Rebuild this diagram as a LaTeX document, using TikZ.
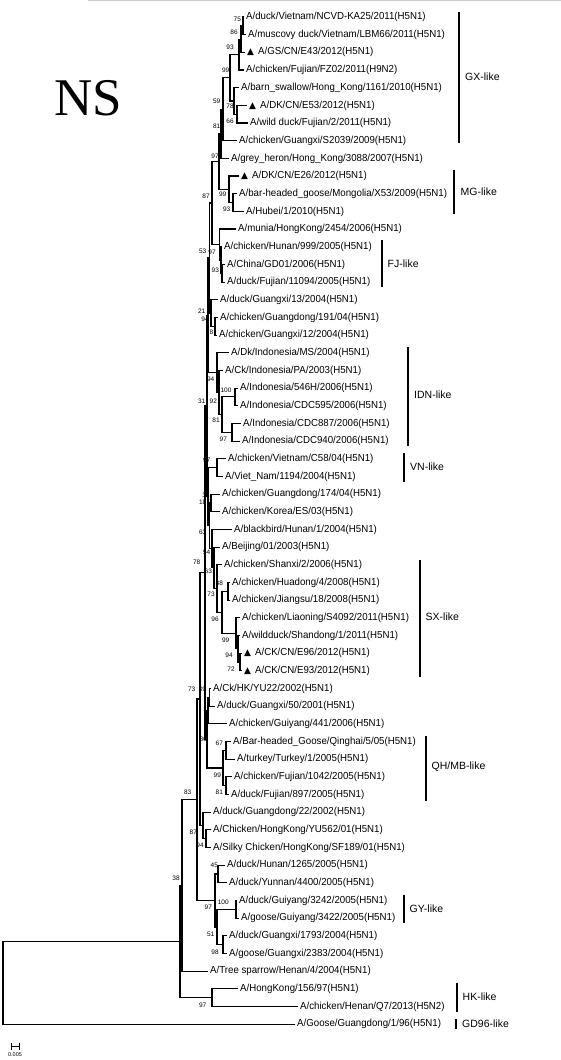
\documentclass[tikz,border=0pt]{standalone}
\usepackage{fontspec}
\setmainfont{Liberation Sans}
\newfontfamily\leaffont[FakeStretch=0.95]{Liberation Sans}
\newfontfamily\nsfont{Liberation Serif}
\newfontfamily\symfont{DejaVu Sans}
\usepackage{tikz}
\usetikzlibrary{calc}

% triangle mark for the new isolates
\newcommand\marktri{{\symfont\fontsize{9}{10}\selectfont ▲}\hspace{4pt}}

% join two children into an inner node at x = #2
\newcommand\joinclade[4]{%
  \path let \p1=(#3), \p2=(#4) in coordinate (#1) at (#2pt,{0.5*(\y1+\y2)});
  \draw[branch] (#3) -| (#1) |- (#4);
}

\tikzset{
  branch/.style={line width=1.1pt},
  leaf/.style={anchor=west, inner xsep=2pt, inner ysep=0pt, font=\leaffont\fontsize{10.2}{12}\selectfont},
  boot/.style={inner sep=0pt, font=\fontsize{6.5}{7}\selectfont},
  cladebar/.style={line width=2pt},
  cladelab/.style={anchor=west, inner sep=0pt, font=\fontsize{10.5}{12}\selectfont}
}

\begin{document}
\begin{tikzpicture}[x=1pt, y=-1pt]
\useasboundingbox (0,0) rectangle (561,1060);

% thin rule at the top
\draw[black!20, line width=1pt] (88,0.5) -- (561,0.5);

% === Title ===
\node[font=\nsfont\fontsize{53}{60}\selectfont, anchor=base west, inner sep=0pt] (title) at (54,115) {NS};

% === Bootstrap values ===
\foreach \v/\x/\y [count=\k] in {75/237.3/19, 86/234/32.3, 93/230/47.3, 99/225.7/70,
    59/216.7/101.7, 78/230/106.7, 66/230/121, 81/216.7/126, 97/215/156,
    87/206/196, 99/222.7/194.3, 93/226.7/209, 53/202.7/251, 97/212/252.7,
    93/215.3/270.7, 21/201.7/311, 94/205/319.3, 78/209.5/332.7,
    94/210.7/379.3, 100/226/390, 31/201.7/401, 92/213.3/401, 81/216/420,
    97/223.3/439.3, 97/206.7/460.7, 31/206/495.7, 18/202.7/502.7,
    63/202.7/532.7, 54/206.7/552.7, 78/196.7/562.3, 63/208.3/571.7,
    88/219.3/583.3, 73/211/594.3, 96/215/619, 99/225.7/640, 94/229/655.7,
    72/231/669, 73/191.7/689.3, 39/202.3/689.3, 80/203.3/739.3,
    67/219.3/743.3, 99/217.3/775, 81/219.3/792.7, 83/187.7/792.7,
    87/193.3/832.7, 94/200/845, 45/214.3/865.7, 38/176/878.3,
    100/223.3/902.3, 97/208.3/907.3, 51/210.7/934, 98/215/952.7, 97/202.7/1005} {
  \node[boot] (bs\k) at (\x,\y) {\v};
}

% === Leaves ===
\node[leaf] (l1) at (244,17.0) {A/duck/Vietnam/NCVD-KA25/2011(H5N1)};
\node[leaf] (l2) at (246,34.7) {A/muscovy duck/Vietnam/LBM66/2011(H5N1)};
\node[leaf] (l3) at (245,52.3) {\marktri A/GS/CN/E43/2012(H5N1)};
\node[leaf] (l4) at (244,70.0) {A/chicken/Fujian/FZ02/2011(H9N2)};
\node[leaf] (l5) at (239,87.7) {A/barn\_swallow/Hong\_Kong/1161/2010(H5N1)};
\node[leaf] (l6) at (247,105.4) {\marktri A/DK/CN/E53/2012(H5N1)};
\node[leaf] (l7) at (248,123.0) {A/wild duck/Fujian/2/2011(H5N1)};
\node[leaf] (l8) at (237,140.7) {A/chicken/Guangxi/S2039/2009(H5N1)};
\node[leaf] (l9) at (229,158.4) {A/grey\_heron/Hong\_Kong/3088/2007(H5N1)};
\node[leaf] (l10) at (239,176.0) {\marktri A/DK/CN/E26/2012(H5N1)};
\node[leaf] (l11) at (237,193.7) {A/bar-headed\_goose/Mongolia/X53/2009(H5N1)};
\node[leaf] (l12) at (244,211.4) {A/Hubei/1/2010(H5N1)};
\node[leaf] (l13) at (236,229.0) {A/munia/HongKong/2454/2006(H5N1)};
\node[leaf] (l14) at (222,246.7) {A/chicken/Hunan/999/2005(H5N1)};
\node[leaf] (l15) at (225,264.4) {A/China/GD01/2006(H5N1)};
\node[leaf] (l16) at (225,282.1) {A/duck/Fujian/11094/2005(H5N1)};
\node[leaf] (l17) at (218,299.7) {A/duck/Guangxi/13/2004(H5N1)};
\node[leaf] (l18) at (218,317.4) {A/chicken/Guangdong/191/04(H5N1)};
\node[leaf] (l19) at (217,335.1) {A/chicken/Guangxi/12/2004(H5N1)};
\node[leaf] (l20) at (229,352.7) {A/Dk/Indonesia/MS/2004(H5N1)};
\node[leaf] (l21) at (223,370.4) {A/Ck/Indonesia/PA/2003(H5N1)};
\node[leaf] (l22) at (238,388.1) {A/Indonesia/546H/2006(H5N1)};
\node[leaf] (l23) at (238,405.7) {A/Indonesia/CDC595/2006(H5N1)};
\node[leaf] (l24) at (241,423.4) {A/Indonesia/CDC887/2006(H5N1)};
\node[leaf] (l25) at (240,441.1) {A/Indonesia/CDC940/2006(H5N1)};
\node[leaf] (l26) at (226,458.8) {A/chicken/Vietnam/C58/04(H5N1)};
\node[leaf] (l27) at (223,476.4) {A/Viet\_Nam/1194/2004(H5N1)};
\node[leaf] (l28) at (220,494.1) {A/chicken/Guangdong/174/04(H5N1)};
\node[leaf] (l29) at (220,511.8) {A/chicken/Korea/ES/03(H5N1)};
\node[leaf] (l30) at (232,529.4) {A/blackbird/Hunan/1/2004(H5N1)};
\node[leaf] (l31) at (220,547.1) {A/Beijing/01/2003(H5N1)};
\node[leaf] (l32) at (222,564.8) {A/chicken/Shanxi/2/2006(H5N1)};
\node[leaf] (l33) at (230,582.4) {A/chicken/Huadong/4/2008(H5N1)};
\node[leaf] (l34) at (230,600.1) {A/chicken/Jiangsu/18/2008(H5N1)};
\node[leaf] (l35) at (240,617.8) {A/chicken/Liaoning/S4092/2011(H5N1)};
\node[leaf] (l36) at (240,635.5) {A/wildduck/Shandong/1/2011(H5N1)};
\node[leaf] (l37) at (242,653.1) {\marktri A/CK/CN/E96/2012(H5N1)};
\node[leaf] (l38) at (242,670.8) {\marktri A/CK/CN/E93/2012(H5N1)};
\node[leaf] (l39) at (211,688.5) {A/Ck/HK/YU22/2002(H5N1)};
\node[leaf] (l40) at (215,706.1) {A/duck/Guangxi/50/2001(H5N1)};
\node[leaf] (l41) at (227,723.8) {A/chicken/Guiyang/441/2006(H5N1)};
\node[leaf] (l42) at (231,741.5) {A/Bar-headed\_Goose/Qinghai/5/05(H5N1)};
\node[leaf] (l43) at (235,759.1) {A/turkey/Turkey/1/2005(H5N1)};
\node[leaf] (l44) at (232,776.8) {A/chicken/Fujian/1042/2005(H5N1)};
\node[leaf] (l45) at (229,794.5) {A/duck/Fujian/897/2005(H5N1)};
\node[leaf] (l46) at (211,812.1) {A/duck/Guangdong/22/2002(H5N1)};
\node[leaf] (l47) at (211,829.8) {A/Chicken/HongKong/YU562/01(H5N1)};
\node[leaf] (l48) at (211,847.5) {A/Silky Chicken/HongKong/SF189/01(H5N1)};
\node[leaf] (l49) at (225,865.2) {A/duck/Hunan/1265/2005(H5N1)};
\node[leaf] (l50) at (227,882.8) {A/duck/Yunnan/4400/2005(H5N1)};
\node[leaf] (l51) at (237,900.5) {A/duck/Guiyang/3242/2005(H5N1)};
\node[leaf] (l52) at (239,918.2) {A/goose/Guiyang/3422/2005(H5N1)};
\node[leaf] (l53) at (227,935.8) {A/duck/Guangxi/1793/2004(H5N1)};
\node[leaf] (l54) at (227,953.5) {A/goose/Guangxi/2383/2004(H5N1)};
\node[leaf] (l55) at (208,971.2) {A/Tree sparrow/Henan/4/2004(H5N1)};
\node[leaf] (l56) at (238,988.9) {A/HongKong/156/97(H5N1)};
\node[leaf] (l57) at (298,1006.5) {A/chicken/Henan/Q7/2013(H5N2)};
\node[leaf] (l58) at (295,1024.2) {A/Goose/Guangdong/1/96(H5N1)};

% === Branches: GX / MG part ===
\joinclade{n75}{243}{l1}{l2}
\joinclade{n86}{241}{n75}{l3}
\joinclade{n93}{239}{n86}{l4}
\joinclade{n66}{237}{l6}{l7}
\joinclade{n78a}{234}{l5}{n66}
\joinclade{n99a}{230}{n93}{n78a}
\joinclade{n59}{223}{n99a}{l8}
\joinclade{n81}{221}{n59}{l9}
\joinclade{n93b}{233}{l11}{l12}
\joinclade{n99b}{229}{l10}{n93b}
\joinclade{n97a}{219}{n81}{n99b}
% FJ part
\joinclade{n93c}{222}{l15}{l16}
\joinclade{n97c}{221}{l14}{n93c}
\joinclade{nmun}{219.5}{l13}{n97c}
\joinclade{n87}{212}{n97a}{nmun}
\joinclade{n78c}{215}{l18}{l19}
\joinclade{n94c}{211}{l17}{n78c}
\joinclade{n53}{209.5}{n87}{n94c}
% IDN part
\joinclade{n100}{235}{l22}{l23}
\joinclade{n97d}{232}{l24}{l25}
\joinclade{n81d}{222}{n100}{n97d}
\joinclade{n92}{219}{l21}{n81d}
\joinclade{n94d}{217}{l20}{n92}
\joinclade{n21}{208}{n53}{n94d}
% VN and SX part
\joinclade{n97e}{217}{l26}{l27}
\joinclade{n31b}{211}{l28}{l29}
\joinclade{n88}{228}{l33}{l34}
\joinclade{n72}{240}{l37}{l38}
\joinclade{n94g}{238}{l36}{n72}
\joinclade{n99g}{236}{l35}{n94g}
\joinclade{n96}{222}{n88}{n99g}
\joinclade{n73g}{217}{l32}{n96}
\joinclade{n63b}{214}{l31}{n73g}
\joinclade{n54}{212}{l30}{n63b}
\joinclade{n63a}{209.5}{n31b}{n54}
\joinclade{n18}{208}{n97e}{n63a}
\joinclade{n31}{207}{n21}{n18}
% QH/MB part
\joinclade{n39}{209.5}{l39}{l40}
\joinclade{ng}{208}{n39}{l41}
\joinclade{n67}{226}{l42}{l43}
\joinclade{n81f}{226}{l44}{l45}
\joinclade{n99f}{223}{n67}{n81f}
\joinclade{n80}{207}{ng}{n99f}
\joinclade{n78}{205}{n31}{n80}
\joinclade{n94h}{206}{l47}{l48}
\joinclade{n87h}{203}{l46}{n94h}
\joinclade{n73}{200}{n78}{n87h}
% GY part
\joinclade{n45}{218}{l49}{l50}
\joinclade{n100i}{236}{l51}{l52}
\joinclade{n98}{223}{l53}{l54}
\joinclade{n51}{217}{n100i}{n98}
\joinclade{n97i}{215}{n45}{n51}
\joinclade{n83}{197}{n73}{n97i}
% basal part
\joinclade{n38}{182}{n83}{l55}
\joinclade{nhk}{212}{l56}{l57}
\joinclade{nb}{180}{n38}{nhk}
\joinclade{root}{3}{nb}{l58}

% === Clade bars ===
\draw[cladebar] (459,12) -- (459,143);
\node[cladelab] (gx) at (465,77) {GX-like};
\draw[cladebar] (454,170) -- (454,214);
\node[cladelab] (mg) at (460.5,192) {MG-like};
\draw[cladebar] (382,240) -- (382,287);
\node[cladelab] (fj) at (387.5,264) {FJ-like};
\draw[cladebar] (408,347) -- (408,446);
\node[cladelab] (idn) at (414,395) {IDN-like};
\draw[cladebar] (404,453) -- (404,482);
\node[cladelab] (vn) at (410,467) {VN-like};
\draw[cladebar] (419.5,560) -- (419.5,677);
\node[cladelab] (sx) at (425.5,617) {SX-like};
\draw[cladebar] (425.5,736) -- (425.5,801);
\node[cladelab] (qh) at (431.5,767) {QH/MB-like};
\draw[cladebar] (404,895) -- (404,923);
\node[cladelab] (gy) at (409.5,909) {GY-like};
\draw[cladebar] (457,983) -- (457,1012);
\node[cladelab] (hk) at (462.5,997) {HK-like};
\draw[cladebar] (456,1019) -- (456,1029);
\node[cladelab] (gd) at (462,1024) {GD96-like};

% === Scale bar ===
\coordinate (sbl) at (11,1046);
\coordinate (sbr) at (19,1046);
\draw[line width=0.6pt] (sbl) -- (sbr);
\draw[line width=0.6pt] ([yshift=3.5pt]sbl) -- ([yshift=-3.5pt]sbl);
\draw[line width=0.6pt] ([yshift=3.5pt]sbr) -- ([yshift=-3.5pt]sbr);
\node[font=\fontsize{5.5}{6}\selectfont, inner sep=0pt] (sbtext) at (15,1055) {0.005};

\end{tikzpicture}
\end{document}
